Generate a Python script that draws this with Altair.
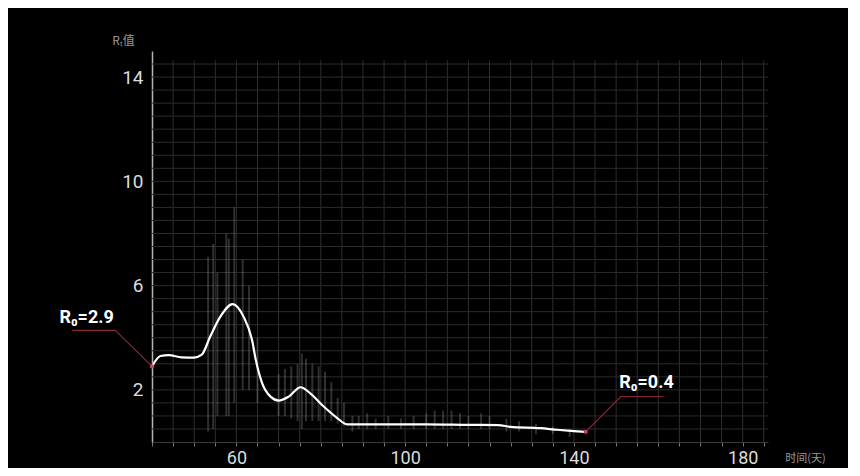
import altair as alt
import pandas as pd

# ---- data ----
days = [40, 42, 44, 47, 50, 51.8, 53.8, 56.2, 59.1, 61.7, 63.7, 64.6, 66.1, 68.1, 70.0,
        72.4, 75.2, 77.5, 80.7, 83.9, 86.2, 95, 105, 115, 122, 125, 132, 136, 140, 142.8]
rt = [2.9, 3.3, 3.33, 3.25, 3.24, 3.35, 4.05, 4.81, 5.29, 4.81, 3.92, 3.15, 2.26, 1.74, 1.59,
      1.74, 2.10, 1.87, 1.36, 0.92, 0.68, 0.68, 0.68, 0.66, 0.65, 0.58, 0.53, 0.47, 0.42, 0.39]

noise_day = [53.3, 54.5, 55.5, 57.6, 58.2, 59.5, 61.5, 63, 65,
             70, 71.5, 73, 74.5, 75.5, 76.5, 78, 79.5, 81, 82.5, 84, 85.5,
             87.5, 89, 91, 93, 96, 99, 102, 105, 107, 109, 111, 113, 115, 118, 120,
             124, 127, 131, 135, 139]
noise_lo = [0.4, 0.5, 1.0, 1.0, 1.0, 1.5, 2.0, 2.0, 1.5,
            1.0, 1.0, 0.9, 0.8, 0.5, 0.8, 0.8, 0.8, 0.8, 0.8, 0.7, 0.6,
            0.4, 0.5, 0.5, 0.5, 0.5, 0.5, 0.5, 0.5, 0.5, 0.5, 0.5, 0.5, 0.5, 0.5, 0.5,
            0.4, 0.4, 0.3, 0.3, 0.2]
noise_hi = [7.1, 7.6, 6.5, 8.0, 7.8, 9.0, 7.0, 6.0, 4.0,
            2.6, 2.8, 2.9, 3.0, 3.4, 3.2, 3.0, 2.9, 2.7, 2.3, 1.7, 1.5,
            1.0, 1.0, 1.1, 0.9, 1.0, 0.9, 1.0, 1.1, 1.2, 1.2, 1.2, 1.1, 1.0, 1.1, 1.0,
            0.9, 0.8, 0.7, 0.6, 0.5]

vgrid = [45, 50, 55, 60, 65, 70, 75, 80, 85, 90, 95, 100, 105, 110, 115, 120, 125, 130,
         135, 140, 145, 150, 155, 160, 165, 170, 175, 180, 185]
hgrid = [0.5, 1, 1.5, 2, 2.5, 3, 3.5, 4, 4.5, 5, 5.5, 6, 6.5, 7, 7.5, 8, 8.5, 9, 9.5,
         10, 10.5, 11, 11.5, 12, 12.5, 13, 13.5, 14, 14.5]
x_ticks = [40, 45, 50, 55, 60, 65, 70, 75, 80, 85, 90, 95, 100, 105, 110, 115, 120, 125,
           130, 135, 140, 145, 150, 155, 160, 165, 170, 175, 180, 185]
x_labels = [60, 100, 140, 180]
y_labels = [2, 6, 10, 14]

ann_labels = ["R₀=2.9", "R₀=0.4"]
ann_x = [24.5, 157.2]
ann_y = [4.76, 2.27]
leader1_x = [21.1, 31.3, 40]
leader1_y = [4.28, 4.28, 2.9]
leader2_x = [142.8, 151.1, 161.1]
leader2_y = [0.39, 1.745, 1.745]

X_DOMAIN = [40, 186]
Y_DOMAIN = [0, 15]
FONT = "Liberation Sans Narrow, Roboto, sans-serif"

xs = alt.Scale(domain=X_DOMAIN, nice=False, zero=False)
ys = alt.Scale(domain=Y_DOMAIN, nice=False, zero=False)

label_expr_x = "indexof([" + ",".join(str(v) for v in x_labels) + "], datum.value) >= 0 ? datum.label : ''"

x_axis = alt.Axis(values=x_ticks, labelExpr=label_expr_x, grid=False, tickSize=4,
                  tickColor="#777", domainColor="#3a3a3a", domainWidth=1,
                  labelColor="#dcdcdc", labelFont=FONT, labelFontSize=18, labelPadding=3,
                  labelFontWeight="normal",
                  title="时间(天)", titleColor="#9a9a9a", titleFont="Noto Sans CJK SC",
                  titleFontSize=11, titleFontWeight="normal", titleX=653, titleY=16,
                  titleAlign="center", titleBaseline="middle")
y_axis = alt.Axis(values=y_labels, grid=False, tickSize=0, domainColor="#b5b5b5",
                  domainWidth=1.5, labelColor="#dcdcdc", labelFont=FONT, labelFontSize=19,
                  labelPadding=9, labelFontWeight="normal",
                  title="Rₜ值", titleColor="#9a9a9a",
                  titleFont="Noto Sans CJK SC", titleFontSize=12, titleFontWeight="normal",
                  titleAngle=0, titleX=-29, titleY=-11, titleAlign="center",
                  titleBaseline="middle")


def X(field):
    return alt.X(field, type="quantitative", scale=xs, axis=x_axis)


def Y(field):
    return alt.Y(field, type="quantitative", scale=ys, axis=y_axis)


vg = pd.DataFrame({"day": vgrid, "lo": [0] * len(vgrid), "hi": [14.65] * len(vgrid)})
hg = pd.DataFrame({"v": hgrid, "x0": [X_DOMAIN[0]] * len(hgrid), "x1": [X_DOMAIN[1]] * len(hgrid)})
line_df = pd.DataFrame({"day": days, "rt": rt})
noise_df = pd.DataFrame({"day": noise_day, "lo": noise_lo, "hi": noise_hi})
ann_df = pd.DataFrame({"label": ann_labels, "x": ann_x, "y": ann_y})
l1 = pd.DataFrame({"x": leader1_x, "y": leader1_y, "o": [0, 1, 2]})
l2 = pd.DataFrame({"x": leader2_x, "y": leader2_y, "o": [0, 1, 2]})
pts = pd.DataFrame({"x": [leader1_x[-1], leader2_x[0]], "y": [leader1_y[-1], leader2_y[0]]})

vgrid_layer = alt.Chart(vg).mark_rule(color="#2e2e2e", strokeWidth=1).encode(
    x=X("day"), y=Y("lo"), y2="hi:Q")

hgrid_layer = alt.Chart(hg).mark_rule(color="#2b2b2b", strokeWidth=1).encode(
    x=X("x0"), x2="x1:Q", y=Y("v"))

noise_layer = alt.Chart(noise_df).mark_rule(color="#9a9a9a", strokeWidth=2, opacity=0.3).encode(
    x=X("day"), y=Y("lo"), y2="hi:Q")

curve = alt.Chart(line_df).mark_line(color="white", strokeWidth=2.2, interpolate="monotone").encode(
    x=X("day"), y=Y("rt"))

lead1 = alt.Chart(l1).mark_line(color="#8a2438", strokeWidth=1.2).encode(
    x=X("x"), y=Y("y"), order="o:Q")
lead2 = alt.Chart(l2).mark_line(color="#8a2438", strokeWidth=1.2).encode(
    x=X("x"), y=Y("y"), order="o:Q")

dots = alt.Chart(pts).mark_point(filled=True, size=18, color="#c8405e", opacity=1).encode(
    x=X("x"), y=Y("y"))

texts = alt.Chart(ann_df).mark_text(color="white", font=FONT, fontSize=18, fontWeight="bold",
                                    align="center", baseline="middle").encode(
    x=X("x"), y=Y("y"), text="label:N")

chart = alt.layer(vgrid_layer, hgrid_layer, noise_layer, curve, lead1, lead2,
                  dots, texts).properties(
    width=616, height=391,
    autosize=alt.AutoSizeParams(type="none"),
    padding={"left": 144, "top": 43, "right": 80, "bottom": 26},
    background="black",
).configure_view(strokeWidth=0)

chart.save("out.html", embed_options={"renderer": "svg", "actions": False})
